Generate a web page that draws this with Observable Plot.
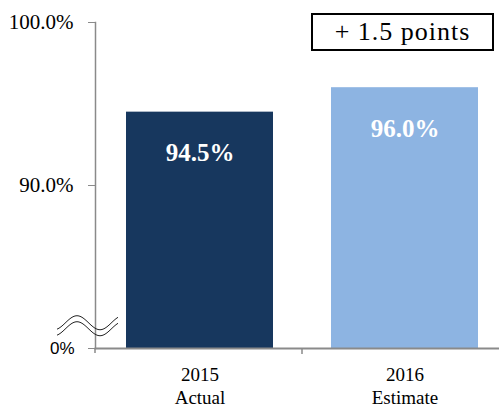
<!DOCTYPE html>
<html><head><meta charset="utf-8">
<script src="https://cdn.jsdelivr.net/npm/d3@7"></script>
<script src="https://cdn.jsdelivr.net/npm/@observablehq/plot@0.6"></script>
<style>
body{margin:0;background:#fff}
#wrap{position:relative;width:499px;height:409px}
#note{position:absolute;left:311px;top:13px;width:183px;height:38px;box-sizing:border-box;border:2px solid #000;
font-family:"Liberation Serif",serif;font-size:26px;letter-spacing:1px;text-align:center;line-height:33px;color:#000;background:#fff}
</style></head><body>
<div id="wrap"><div id="note"></div></div>
<script>
const years = ["2015", "2016"];
const subLabels = ["Actual", "Estimate"];
const values = [94.5, 96.0];
const valueLabels = ["94.5%", "96.0%"];
const barColors = ["#17375E", "#8DB4E2"];
const yTicks = [90, 100];
const yTickLabels = ["90.0%", "100.0%"];
const baseTick = 80;
const baseLabel = "0%";
const noteText = "+ 1.5 points";

const data = years.map((y, i) => ({year: y, value: values[i], label: valueLabels[i], color: barColors[i], sub: subLabels[i]}));
const gray = "#8a8a8a";
const serif = "Liberation Serif";

const plot = Plot.plot({
  width: 499, height: 409,
  marginLeft: 95, marginRight: 0, marginTop: 22, marginBottom: 61,
  style: {fontFamily: serif, background: "#fff", overflow: "visible"},
  x: {domain: years, range: [95, 509], paddingInner: 0.282, paddingOuter: 0.146},
  y: {domain: [baseTick, 100]},
  marks: [
    Plot.barY(data, {x: "year", y1: baseTick, y2: "value", fill: "color"}),
    Plot.text(data, {x: "year", y: "value", text: "label", dy: 41, fill: "white", fontWeight: "bold", fontSize: 25, fontFamily: serif}),
    Plot.frame({anchor: "left", stroke: gray, strokeWidth: 1.5}),
    Plot.frame({anchor: "bottom", stroke: gray, strokeWidth: 2}),
    Plot.axisY(yTicks, {tickSize: 7, tickPadding: 15, stroke: gray, fill: "black", fontSize: 21, fontFamily: serif, label: null,
      tickFormat: d => yTickLabels[yTicks.indexOf(d)]}),
    Plot.axisY([baseTick], {tickSize: 7, tickPadding: 14, stroke: gray, fill: "black", fontSize: 17, label: null,
      fontFamily: "Liberation Sans", tickFormat: () => baseLabel}),
    Plot.axisX({tickSize: 0, tickPadding: 16, fontSize: 19, lineHeight: 1.22, fill: "black", fontFamily: serif, label: null,
      tickFormat: d => d + "\n" + subLabels[years.indexOf(d)]})
  ]
});

document.getElementById("wrap").prepend(plot);
document.getElementById("note").textContent = noteText;

// decorations driven by the scales
const xs = plot.scale("x"), ys = plot.scale("y");
const svg = d3.select(plot);
const y0 = ys.apply(baseTick);
const xStart = xs.range[0];
const mid = xs.apply(years[1]) - (xs.step - xs.bandwidth) / 2;
svg.append("line").attr("x1", mid).attr("x2", mid).attr("y1", y0).attr("y2", y0 + 6)
  .attr("stroke", gray).attr("stroke-width", 1.5);
svg.append("line").attr("x1", xStart).attr("x2", xStart).attr("y1", y0).attr("y2", y0 + 5)
  .attr("stroke", gray).attr("stroke-width", 1.5);
const breakMid = ys.apply(81.55);
[0, 6].forEach(off => {
  const pts = d3.range(57, 118.5, 1).map(px => [px, breakMid + off - 7 * Math.sin((px - 65.5) / 46 * 2 * Math.PI)]);
  svg.append("path").attr("d", d3.line()(pts)).attr("fill", "none").attr("stroke", "#222").attr("stroke-width", 1);
});
</script>
</body></html>
